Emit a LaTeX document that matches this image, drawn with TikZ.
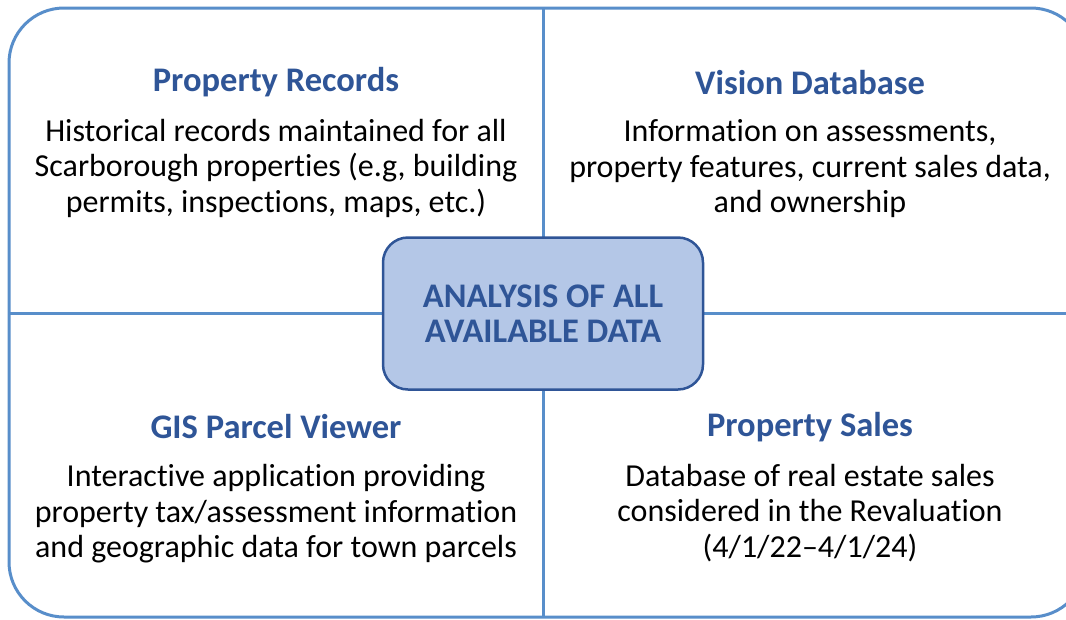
\documentclass[tikz,border=0pt]{standalone}
\usepackage{fontspec}
\setmainfont{Carlito}[Ligatures=NoCommon]
\definecolor{frameblue}{RGB}{88,142,202}
\definecolor{titleblue}{RGB}{47,85,151}
\definecolor{boxfill}{RGB}{180,199,231}
\tikzset{
  title/.style={font=\fontsize{34.5}{38}\selectfont\bfseries,text=titleblue},
  body/.style={font=\fontsize{32}{35.5}\selectfont,align=center},
}
\begin{document}
\begin{tikzpicture}[x=1pt,y=-1pt]
\useasboundingbox (0,0) rectangle (1066,619);
\clip (0,0) rectangle (1066,619);
\draw[frameblue,line width=3pt,rounded corners=55pt] (9,8) rectangle (1086,617);
\coordinate (top) at (543,8);
\coordinate (bot) at (543,617);
\coordinate (lft) at (9,313);
\coordinate (rgt) at (1086,313);
\draw[frameblue,line width=3pt] (top) -- (bot);
\draw[frameblue,line width=3pt] (lft) -- (rgt);
\node[title] (rectitle) at (276,82) {Property Records};
\node[body] (recbody) at (276,168) {Historical records maintained for all\\Scarborough properties (e.g, building\\permits, inspections, maps, etc.)};
\node[title] (vistitle) at (810,83) {Vision Database};
\node[body] (visbody) at (810,169) {Information on assessments,\\property features, current sales data,\\and ownership};
\node[title] (gistitle) at (276,427) {GIS Parcel Viewer};
\node[body] (gisbody) at (276,514) {Interactive application providing\\property tax/assessment information\\and geographic data for town parcels};
\node[title] (saltitle) at (810,427) {Property Sales};
\node[body] (salbody) at (810,513) {Database of real estate sales\\considered in the Revaluation\\(4/1/22--4/1/24)};
\node[draw=titleblue,fill=boxfill,line width=2.5pt,rounded corners=25pt,
  minimum width=320pt,minimum height=152pt,align=center,text=titleblue,
  font=\fontsize{34.5}{35}\selectfont\bfseries] (analysis) at (543,313.5)
  {ANALYSIS OF ALL\\AVAILABLE DATA};
\end{tikzpicture}
\end{document}
